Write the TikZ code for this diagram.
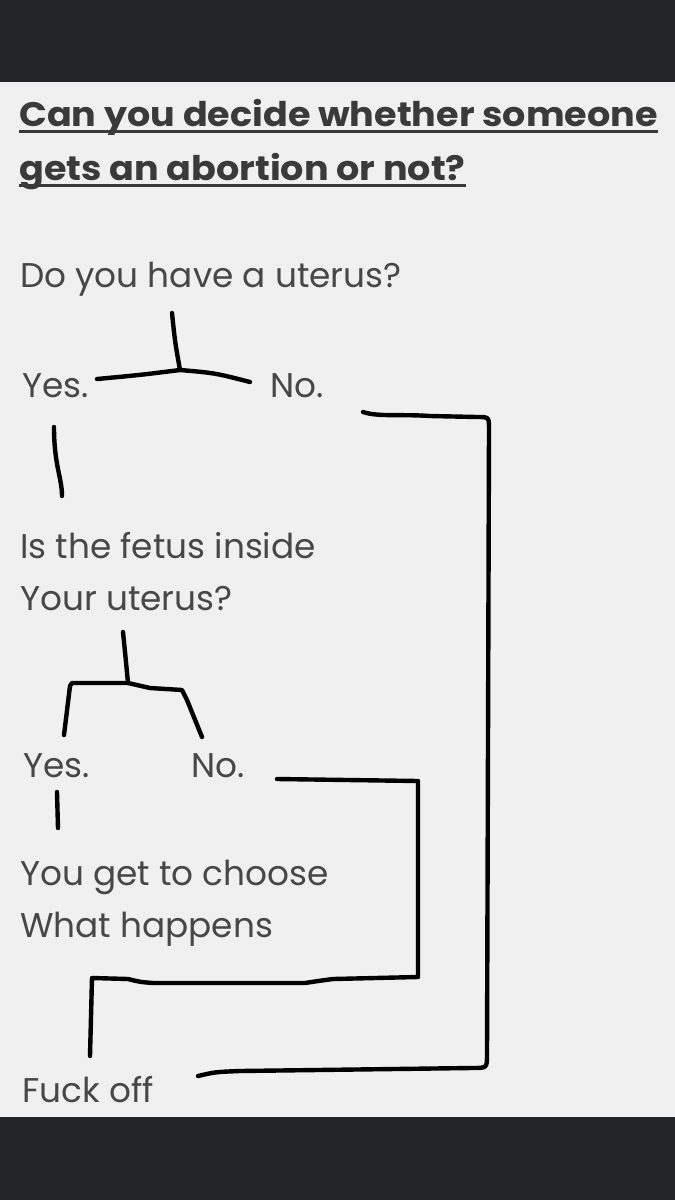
\documentclass[tikz,border=0pt]{standalone}
\usepackage{fontspec}
\setmainfont{Poppins}
\newfontfamily\ttlfont[FakeStretch=1.075]{Poppins}
\definecolor{barc}{HTML}{232427}
\definecolor{paper}{HTML}{F0F0F0}
\definecolor{ink}{HTML}{474747}
\definecolor{titlec}{HTML}{3A3A3A}
\begin{document}
\begin{tikzpicture}[x=1pt,y=-1pt,
 txt/.style={anchor=base west,inner sep=0,text=ink,font=\fontsize{34.3}{40}\selectfont},
 ttl/.style={anchor=base west,inner sep=0,text=titlec,font=\ttlfont\bfseries\fontsize{34}{38}\selectfont},
 uline/.style={titlec,line width=2.2pt},
 pen/.style={line width=4.4pt,line cap=round,line join=round,black}]
\useasboundingbox (0,0) rectangle (675,1200);
\fill[paper] (0,0) rectangle (675,1200);
\fill[barc] (0,0) rectangle (675,82);
\fill[barc] (0,1117) rectangle (675,1200);

\node[ttl] (t1) at (19,126) {Can you decide whether someone};
\node[ttl] (t2) at (19,180) {gets an abortion or not?};
\draw[uline] ([yshift=-5.5pt]t1.base west) -- ([yshift=-5.5pt]t1.base east);
\draw[uline] ([yshift=-5.5pt]t2.base west) -- ([yshift=-5.5pt]t2.base east);

\node[txt] (q1) at (20,287) {Do you have a uterus?};
\node[txt] (y1) at (22,397) {Yes.};
\node[txt] (n1) at (270,397) {No.};
\node[txt] (q2a) at (20,558) {Is the fetus inside};
\node[txt] (q2b) at (20,610) {Your uterus?};
\node[txt] (y2) at (23,777) {Yes.};
\node[txt] (n2) at (191,777) {No.};
\node[txt] (c1) at (20,885) {You get to choose};
\node[txt] (c2) at (20,937) {What happens};
\node[txt] (f) at (22,1102) {Fuck off};

% first split
\coordinate (j1) at (180,370);
\draw[pen] (172,313) .. controls (175,342) .. (j1);
\draw[pen] (97,379) .. controls (140,375) .. (j1) .. controls (215,373) .. (250,382);
\draw[pen] (54,427) .. controls (54,465) and (62,478) .. (62,496);

% big bracket from No. to Fuck off
\draw[pen] (363,412) .. controls (378,417) and (400,414) .. (430,416) -- (477,417)
  .. controls (489,417) .. (489,429) -- (487,1055) .. controls (487,1068) .. (472,1068)
  -- (240,1071) .. controls (215,1072) .. (198,1076);

% second split
\coordinate (j2) at (128,683);
\draw[pen] (123,632) .. controls (126,662) .. (j2);
\draw[pen] (64,735) -- (70,686) -- (72,683) -- (j2) -- (150,688) -- (182,690) -- (187,700) -- (202,737);
\draw[pen] (57,792) -- (58,828);

% second bracket from No. to Fuck off
\draw[pen] (277,779) -- (418,781) -- (418,977) -- (333,979) .. controls (318,981) .. (305,983)
  -- (153,983) .. controls (140,982) .. (128,979) -- (92,978) -- (90,1056);
\end{tikzpicture}
\end{document}
